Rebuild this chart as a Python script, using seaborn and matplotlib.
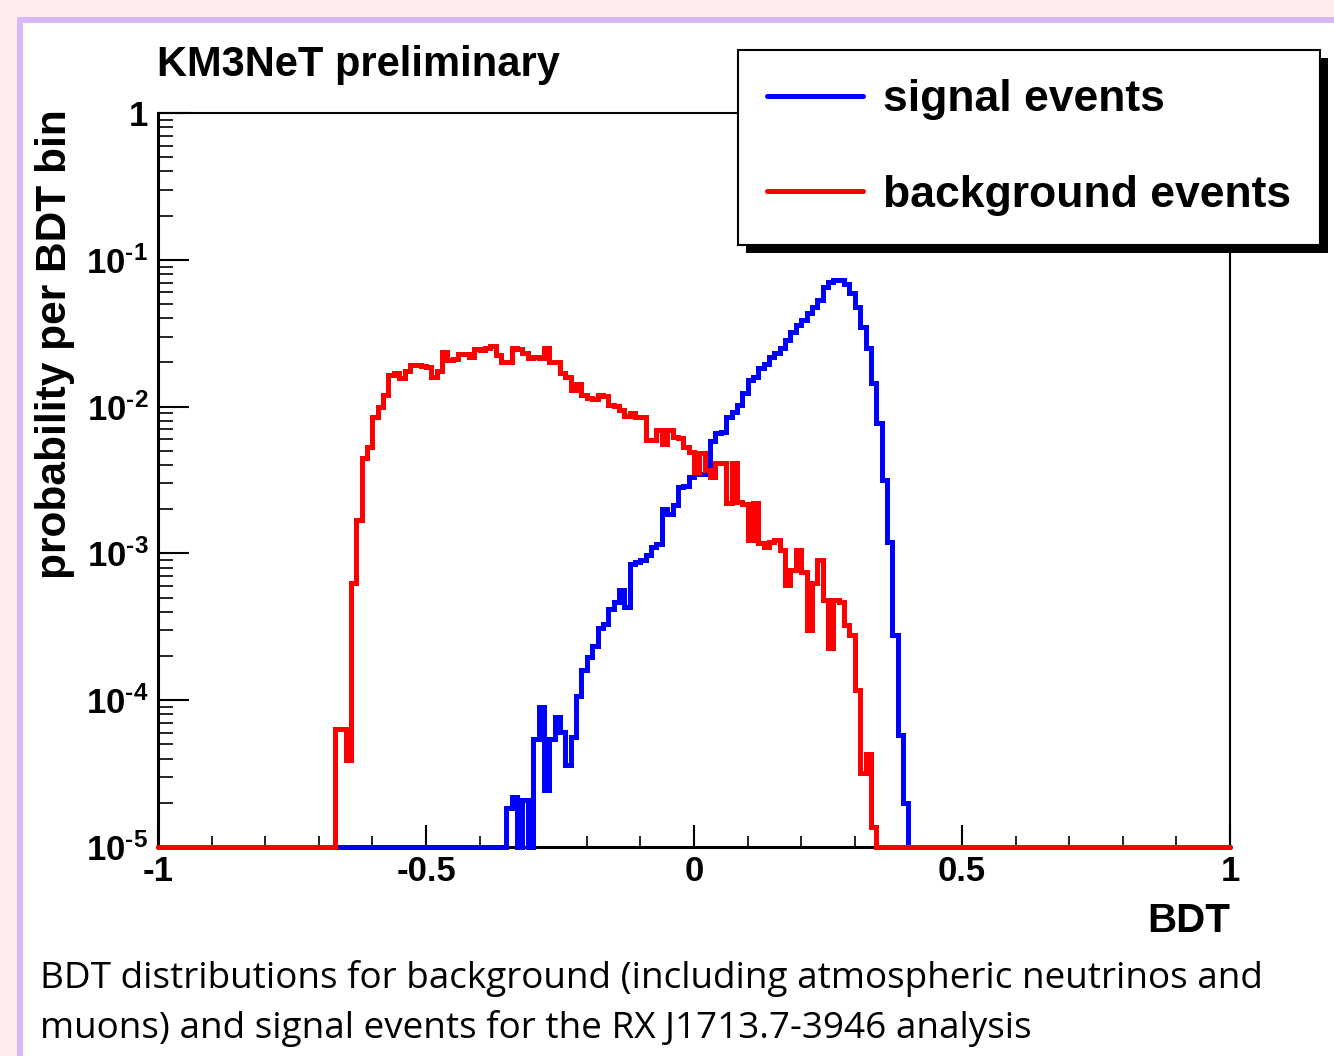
import numpy as np
import pandas as pd
import matplotlib
matplotlib.use('Agg')
import matplotlib.pyplot as plt
import matplotlib.transforms as mtransforms
from matplotlib.patches import Rectangle
from matplotlib.ticker import MultipleLocator, LogLocator, FuncFormatter, NullFormatter
import seaborn as sns

# BDT histogram: 200 bins of width 0.01 between -1 and 1
n_bins = 200
bdt_range = (-1.0, 1.0)

# background events: first non-empty bin starts at -0.67, last one at 0.33
bkg_first_bin = -0.67
bkg_prob = [
    6.4e-5, 6.4e-5, 3.9e-5, 6.25e-4, 1.69e-3, 4.45e-3, 5.33e-3, 8.45e-3, 1.0e-2, 1.2e-2,      # -0.67 .. -0.58
    1.64e-2, 1.69e-2, 1.56e-2, 1.76e-2, 1.92e-2, 1.92e-2, 1.9e-2, 1.86e-2, 1.6e-2, 1.76e-2,   # -0.57 .. -0.48
    2.37e-2, 2.07e-2, 2.1e-2, 2.28e-2, 2.28e-2, 2.17e-2, 2.45e-2, 2.43e-2, 2.5e-2, 2.59e-2,   # -0.47 .. -0.38
    2.24e-2, 2.02e-2, 2.02e-2, 2.5e-2, 2.45e-2, 2.33e-2, 2.15e-2, 2.17e-2, 2.15e-2, 2.5e-2,   # -0.37 .. -0.28
    2.02e-2, 2.02e-2, 1.7e-2, 1.6e-2, 1.3e-2, 1.42e-2, 1.2e-2, 1.14e-2, 1.12e-2, 1.2e-2,     # -0.27 .. -0.18
    1.18e-2, 1.03e-2, 1.01e-2, 9.5e-3, 8.6e-3, 9.0e-3, 8.45e-3, 8.45e-3, 5.9e-3, 5.95e-3,    # -0.17 .. -0.08
    6.9e-3, 5.6e-3, 6.9e-3, 6.2e-3, 6.15e-3, 5.33e-3, 4.93e-3,                               # -0.07 .. -0.01
    3.6e-3, 4.8e-3, 3.7e-3, 3.33e-3, 4.1e-3, 4.1e-3, 2.19e-3, 4.1e-3, 2.25e-3, 2.18e-3,      # 0.00 .. 0.09
    1.23e-3, 2.19e-3, 1.17e-3, 1.11e-3, 1.2e-3, 1.23e-3, 1.05e-3, 6.1e-4, 7.7e-4, 1.05e-3,   # 0.10 .. 0.19
    7.5e-4, 3.0e-4, 6.25e-4, 9.0e-4, 4.8e-4, 2.26e-4, 4.8e-4, 4.7e-4, 3.25e-4, 2.78e-4,      # 0.20 .. 0.29
    1.17e-4, 3.2e-5, 4.3e-5, 1.37e-5,                                                        # 0.30 .. 0.33
]

# signal events: first non-empty bin starts at -0.35, last one at 0.39
sig_first_bin = -0.35
sig_prob = [
    1.84e-5, 2.2e-5, 0.0, 2.1e-5, 0.0, 5.4e-5, 9.0e-5, 2.45e-5, 5.4e-5, 7.7e-5,              # -0.35 .. -0.26
    6.1e-5, 3.6e-5, 5.6e-5, 1.06e-4, 1.6e-4, 1.98e-4, 2.34e-4, 3.1e-4, 3.3e-4, 4.2e-4,       # -0.25 .. -0.16
    4.7e-4, 5.6e-4, 4.3e-4, 8.5e-4, 8.7e-4, 9.0e-4, 9.8e-4, 1.1e-3, 1.15e-3, 2.0e-3,         # -0.15 .. -0.06
    1.85e-3, 2.15e-3, 2.85e-3, 2.9e-3, 3.3e-3,                                               # -0.05 .. -0.01
    3.5e-3, 3.5e-3, 3.55e-3, 5.8e-3, 6.6e-3, 6.7e-3, 8.5e-3, 9.2e-3, 1.03e-2, 1.23e-2,       # 0.00 .. 0.09
    1.52e-2, 1.6e-2, 1.82e-2, 1.95e-2, 2.19e-2, 2.3e-2, 2.5e-2, 2.84e-2, 3.24e-2, 3.6e-2,    # 0.10 .. 0.19
    3.89e-2, 4.32e-2, 4.8e-2, 5.32e-2, 6.56e-2, 7.1e-2, 7.3e-2, 7.3e-2, 6.84e-2, 5.91e-2,    # 0.20 .. 0.29
    4.8e-2, 3.5e-2, 2.5e-2, 1.44e-2, 7.7e-3, 3.16e-3, 1.2e-3, 2.78e-4, 5.8e-5, 2.0e-5,      # 0.30 .. 0.39
]

legend_labels = ['signal events', 'background events']
caption_lines = [
    'BDT distributions for background (including atmospheric neutrinos and',
    'muons) and signal events for the RX J1713.7-3946 analysis',
]

y_min, y_max = 1e-5, 1.0

bin_edges = np.linspace(bdt_range[0], bdt_range[1], n_bins + 1)
bin_width = bin_edges[1] - bin_edges[0]
centers = 0.5 * (bin_edges[:-1] + bin_edges[1:])


def full_hist(first, vals):
    h = np.zeros(n_bins)
    i0 = int(round((first - bin_edges[0]) / bin_width))
    h[i0:i0 + len(vals)] = vals
    return h


# empty bins are drawn on the bottom of the frame, like ROOT does
df = pd.DataFrame({
    'BDT': centers,
    'sig': np.maximum(full_hist(sig_first_bin, sig_prob), y_min),
    'bkg': np.maximum(full_hist(bkg_first_bin, bkg_prob), y_min),
})

sns.set_style('ticks')
plt.rcParams['font.family'] = ['Liberation Sans', 'DejaVu Sans']
plt.rcParams['font.weight'] = 'bold'
plt.rcParams['text.color'] = 'black'
plt.rcParams['mathtext.fontset'] = 'custom'
plt.rcParams['mathtext.rm'] = 'Liberation Sans:bold'
plt.rcParams['mathtext.bf'] = 'Liberation Sans:bold'

W, H = 1334, 1056
fig = plt.figure(figsize=(W / 100, H / 100), dpi=100)
fig.patch.set_facecolor('#fdeded')
# white slide panel with lavender border, kept behind the axes
fig.patches.append(Rectangle((20 / W, -0.05), 1.2, 1.05 - 20 / H, transform=fig.transFigure,
                             facecolor='white', edgecolor='#d8b8f5', linewidth=4.3, zorder=-10))

ax = fig.add_axes([158 / W, 209 / H, 1072 / W, 734 / H])
ax.patch.set_visible(False)

sns.histplot(data=df, x='BDT', weights='sig', bins=n_bins, binrange=bdt_range,
             element='step', fill=False, color='#0000ff', linewidth=3.6,
             label=legend_labels[0], ax=ax, clip_on=False, zorder=3,
             solid_joinstyle='miter')
sns.histplot(data=df, x='BDT', weights='bkg', bins=n_bins, binrange=bdt_range,
             element='step', fill=False, color='#ff0000', linewidth=3.6,
             label=legend_labels[1], ax=ax, clip_on=False, zorder=3,
             solid_joinstyle='miter')

ax.set_yscale('log')
ax.set_xlim(*bdt_range)
ax.set_ylim(y_min, y_max)
ax.set_xlabel('')
ax.set_ylabel('')

for side in ['top', 'right']:
    ax.spines[side].set_linewidth(1.5)
for side in ['left', 'bottom']:
    ax.spines[side].set_linewidth(2.2)
for s in ax.spines.values():
    s.set_color('black')

ax.xaxis.set_major_locator(MultipleLocator(0.5))
ax.xaxis.set_minor_locator(MultipleLocator(0.1))
ax.xaxis.set_major_formatter(FuncFormatter(lambda v, p: f'{v:g}'))
ax.yaxis.set_major_locator(LogLocator(base=10, numticks=10))
ax.yaxis.set_minor_locator(LogLocator(base=10, subs=np.arange(2, 10), numticks=20))
ax.yaxis.set_minor_formatter(NullFormatter())


def fmt_y(v, pos):
    # ROOT writes the exponent with a plain hyphen
    e = int(round(np.log10(v)))
    if e == 0:
        return '1'
    return r'$\mathbf{10^{\text{-}%d}}$' % abs(e)


ax.yaxis.set_major_formatter(FuncFormatter(fmt_y))
ax.tick_params(which='both', direction='in', top=False, right=False, colors='black', labelsize=25)
ax.tick_params(axis='x', which='major', length=16, width=1.5, pad=6)
ax.tick_params(axis='x', which='minor', length=8, width=1.2)
ax.tick_params(axis='y', which='major', length=22, width=1.5, pad=7)
ax.tick_params(axis='y', which='minor', length=11, width=1.2)

leg = ax.legend(loc='upper left', bbox_to_anchor=(738 / W, 1 - 50 / H), bbox_transform=fig.transFigure,
                frameon=True, fancybox=False, framealpha=1, edgecolor='black', fontsize=32,
                handlelength=2.15, handletextpad=0.45, borderpad=0.66, labelspacing=1.23,
                borderaxespad=0)
leg.get_frame().set_linewidth(1.5)
leg.set_zorder(10)

fig.text(157 / W, 1 - 76 / H, 'KM3NeT preliminary', fontsize=30, va='baseline', ha='left')
fig.text(55 / W, 1 - 344 / H, 'probability per BDT bin', fontsize=30.5, rotation=90,
         ha='center', va='center')
fig.text(1230 / W, 1 - 932 / H, 'BDT', fontsize=29, ha='right', va='baseline')

# caption in a plain humanist face, fitted to the slide width
caps = []
for i, line in enumerate(caption_lines):
    caps.append(fig.text(40 / W, 1 - (988 + 50 * i) / H, line, fontsize=24,
                         family=['Open Sans', 'DejaVu Sans'], fontweight='normal',
                         va='baseline', ha='left'))

fig.canvas.draw()
r = fig.canvas.get_renderer()
w0 = caps[0].get_window_extent(r).width
for c in caps:
    c.set_fontsize(24 * 1225 / w0)

# ROOT style legend shadow
bb = leg.get_window_extent(r)
ax.add_artist(Rectangle((bb.x0 + 8, bb.y0 - 8), bb.width, bb.height,
                        transform=mtransforms.IdentityTransform(), facecolor='black',
                        edgecolor='none', zorder=9.5, clip_on=False))

fig.savefig('out.png', dpi=100, facecolor=fig.get_facecolor())
